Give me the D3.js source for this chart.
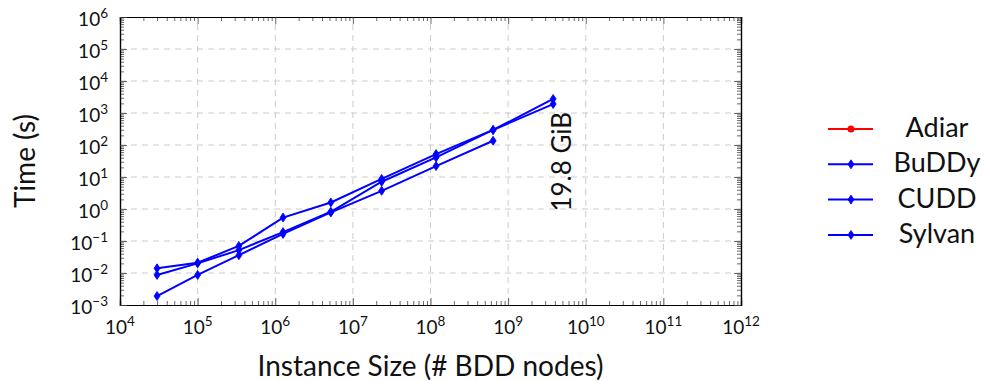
<!DOCTYPE html>
<html>
<head>
<meta charset="utf-8">
<script src="https://cdn.jsdelivr.net/npm/d3@7"></script>
<style>
  body { margin: 0; background: #fff; }
  text { font-family: Lato, "DejaVu Sans", sans-serif; fill: #111; }
</style>
</head>
<body>
<div id="chart"></div>
<script>
// instance sizes (# BDD nodes) and running times (s)
var sizes = [3.0e4, 1.0e5, 3.4e5, 1.26e6, 5.2e6, 2.35e7, 1.18e8, 6.4e8, 3.8e9];
var adiar = [];
var buddy = [0.014, 0.021, 0.07, 0.54, 1.6, 8.7, 52, 295, 2750];
var cudd = [0.0087, 0.020, 0.052, 0.19, 0.82, 7.1, 41, 295, 1900];
var sylvan = [0.0019, 0.0087, 0.036, 0.166, 0.78, 3.7, 22, 136];

var seriesNames = ["Adiar", "BuDDy", "CUDD", "Sylvan"];
var seriesColours = ["#ff0000", "#0000ff", "#0000ff", "#0000ff"];
var seriesMarkers = ["circle", "diamond", "diamond", "diamond"];
var seriesValues = [adiar, buddy, cudd, sylvan];

var xTickExps = [4, 5, 6, 7, 8, 9, 10, 11, 12];
var yTickExps = [-3, -2, -1, 0, 1, 2, 3, 4, 5, 6];
var memNote = "19.8 GiB";
var memNoteSize = 6.5e9;
var memNoteTime = 30;

var width = 985, height = 381;
var plotL = 120, plotR = 741, plotT = 17, plotB = 305;

var svg = d3.select("#chart").append("svg")
  .attr("width", width)
  .attr("height", height);

var x = d3.scaleLog().domain([1e4, 1e12]).range([plotL, plotR]);
var y = d3.scaleLog().domain([1e-3, 1e6]).range([plotB, plotT]);

var xMajor = xTickExps.map(function(e) { return Math.pow(10, e); });
var yMajor = yTickExps.map(function(e) { return Math.pow(10, e); });
var xMinor = x.ticks().filter(function(d) { return xMajor.indexOf(d) == -1; });
var yMinor = y.ticks().filter(function(d) { return yMajor.indexOf(d) == -1; });

// grid
var grid = svg.append("g")
  .attr("stroke", "#cccccc")
  .attr("stroke-width", 1)
  .attr("stroke-dasharray", "6,5");
grid.selectAll("line.gx").data(xMajor.slice(1, -1)).enter().append("line")
  .attr("x1", function(d) { return x(d); }).attr("x2", function(d) { return x(d); })
  .attr("y1", plotB).attr("y2", plotT);
grid.selectAll("line.gy").data(yMajor.slice(1, -1)).enter().append("line")
  .attr("y1", function(d) { return y(d); }).attr("y2", function(d) { return y(d); })
  .attr("x1", plotL).attr("x2", plotR);

// axes with inside ticks on all four sides
function addAxis(axis, tx, ty, values, size) {
  var g = svg.append("g")
    .attr("transform", "translate(" + tx + "," + ty + ")")
    .call(axis.tickValues(values).tickSize(size).tickFormat(""));
  g.select(".domain").attr("stroke", "#000").attr("stroke-width", 1.2);
  g.selectAll(".tick line").attr("stroke", "#444").attr("stroke-width", 0.8);
  return g;
}
addAxis(d3.axisBottom(x), 0, plotB, xMinor, -4);
addAxis(d3.axisBottom(x), 0, plotB, xMajor, -7);
addAxis(d3.axisTop(x), 0, plotT, xMinor, -4);
addAxis(d3.axisTop(x), 0, plotT, xMajor, -7);
addAxis(d3.axisLeft(y), plotL, 0, yMinor, -4);
addAxis(d3.axisLeft(y), plotL, 0, yMajor, -7);
addAxis(d3.axisRight(y), plotR, 0, yMinor, -4);
addAxis(d3.axisRight(y), plotR, 0, yMajor, -7);

// tick labels 10^e
function powLabel(sel, e) {
  sel.append("tspan").text("10");
  sel.append("tspan").attr("dy", -8).attr("font-size", 13.5)
    .text(e < 0 ? "\u2212" + (-e) : String(e));
}
svg.selectAll("text.xl").data(xTickExps).enter().append("text")
  .attr("x", function(d) { return x(Math.pow(10, d)); })
  .attr("y", 334)
  .attr("text-anchor", "middle")
  .attr("font-size", 19)
  .each(function(d) { powLabel(d3.select(this), d); });
svg.selectAll("text.yl").data(yTickExps).enter().append("text")
  .attr("x", 108)
  .attr("y", function(d) { return y(Math.pow(10, d)) + 9; })
  .attr("text-anchor", "end")
  .attr("font-size", 19)
  .each(function(d) { powLabel(d3.select(this), d); });

// axis titles
svg.append("text")
  .attr("x", (plotL + plotR) / 2).attr("y", 376)
  .attr("text-anchor", "middle")
  .attr("font-size", 28)
  .text("Instance Size (# BDD nodes)");
svg.append("text")
  .attr("transform", "translate(35," + (plotT + plotB) / 2 + ") rotate(-90)")
  .attr("text-anchor", "middle")
  .attr("font-size", 28)
  .text("Time (s)");

// lines
var line = d3.line()
  .x(function(d, i) { return x(sizes[i]); })
  .y(function(d) { return y(d); });

function drawMarker(g, kind, colour, cx, cy) {
  if (kind == "circle") {
    g.append("circle").attr("cx", cx).attr("cy", cy).attr("r", 3.5).attr("fill", colour);
  } else {
    g.append("path")
      .attr("d", "M" + cx + "," + (cy - 4.5) + "L" + (cx + 3) + "," + cy + "L" + cx + "," + (cy + 4.5) + "L" + (cx - 3) + "," + cy + "Z")
      .attr("fill", colour).attr("stroke", colour).attr("stroke-width", 0.8);
  }
}

seriesValues.forEach(function(vals, s) {
  if (vals.length == 0) return;
  svg.append("path").datum(vals)
    .attr("d", line)
    .attr("fill", "none")
    .attr("stroke", seriesColours[s])
    .attr("stroke-width", 2);
  var mg = svg.append("g");
  vals.forEach(function(v, i) {
    drawMarker(mg, seriesMarkers[s], seriesColours[s], x(sizes[i]), y(v));
  });
});

// memory note
svg.append("text")
  .attr("transform", "translate(" + x(memNoteSize) + "," + y(memNoteTime) + ") rotate(-90)")
  .attr("text-anchor", "middle")
  .attr("font-size", 26)
  .text(memNote);

// legend
var legend = svg.append("g");
seriesNames.forEach(function(name, i) {
  var ly = 129 + i * 35.3;
  legend.append("line")
    .attr("x1", 828).attr("x2", 873).attr("y1", ly).attr("y2", ly)
    .attr("stroke", seriesColours[i]).attr("stroke-width", 2);
  drawMarker(legend, seriesMarkers[i], seriesColours[i], 851, ly);
  legend.append("text")
    .attr("x", 937).attr("y", ly + 8)
    .attr("text-anchor", "middle")
    .attr("font-size", 27)
    .text(name);
});
</script>
</body>
</html>
